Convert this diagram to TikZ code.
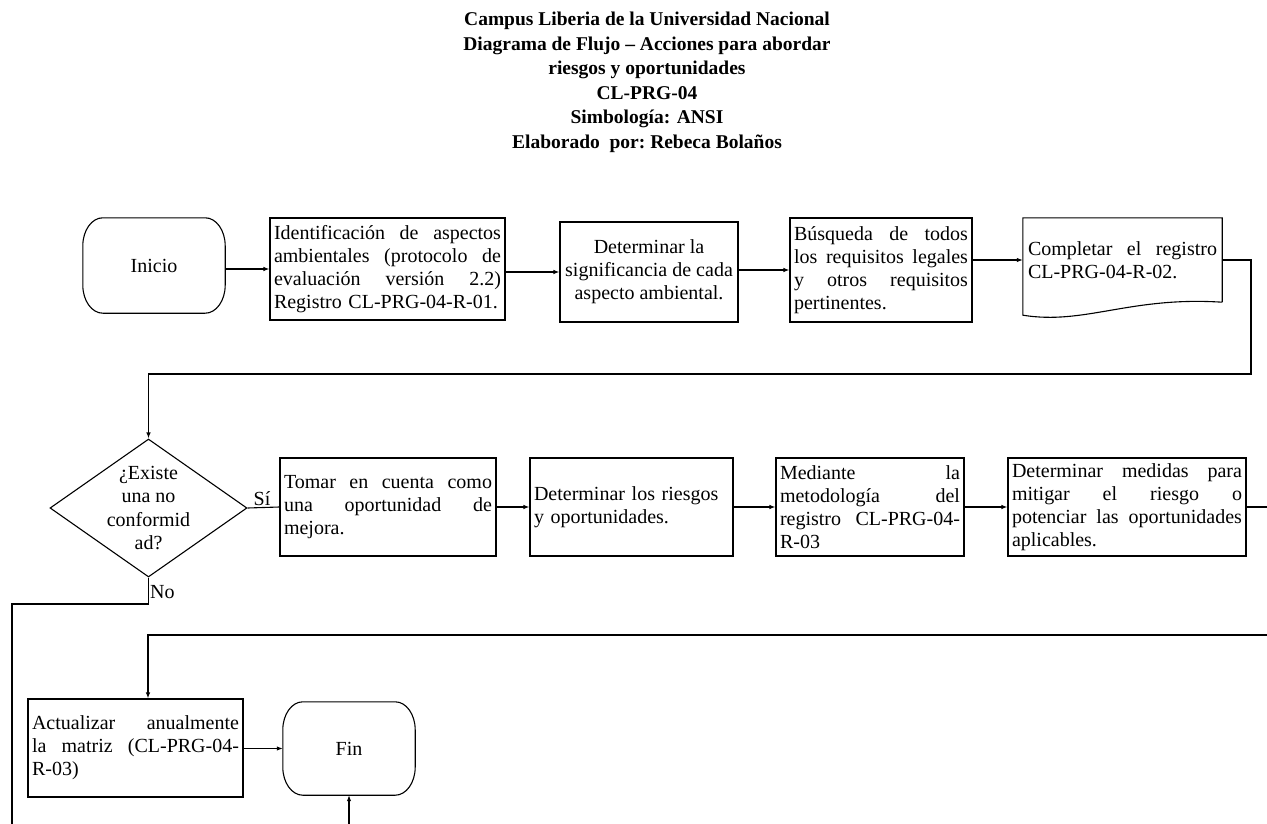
\documentclass[tikz,border=0pt]{standalone}
\usepackage{fontspec}
\setmainfont{Liberation Serif}
\usetikzlibrary{arrows.meta,shapes.geometric,calc}
% justified line: stretch the word spaces over the width \jlw
\newlength\jlw
\newcommand\jl[1]{\leavevmode\hbox to\jlw{\spaceskip=.25em plus 1fil\relax#1}}
\newcommand\boxfont{\fontsize{20}{23}\selectfont}
% terminal outline with elliptic corners round a node
\newcommand\termpath[1]{%
  \draw[wire] ($(#1.north west)+(20,0)$) -- ($(#1.north east)+(-20,0)$)
    .. controls ($(#1.north east)+(-9,0)$) and ($(#1.north east)+(0,12.5)$) .. ($(#1.north east)+(0,28)$)
    -- ($(#1.south east)+(0,-28)$)
    .. controls ($(#1.south east)+(0,-12.5)$) and ($(#1.south east)+(-9,0)$) .. ($(#1.south east)+(-20,0)$)
    -- ($(#1.south west)+(20,0)$)
    .. controls ($(#1.south west)+(9,0)$) and ($(#1.south west)+(0,-12.5)$) .. ($(#1.south west)+(0,-28)$)
    -- ($(#1.north west)+(0,28)$)
    .. controls ($(#1.north west)+(0,12.5)$) and ($(#1.north west)+(9,0)$) .. cycle;}

\begin{document}
\begin{tikzpicture}[x=1pt,y=-1pt,
  every node/.style={font=\boxfont},
  jw/.style={text width=#1, execute at begin node={\setlength{\jlw}{#1}}},
  proc/.style={draw, line width=1.1pt, rectangle, inner xsep=4pt, inner ysep=0pt, align=left},
  term/.style={rectangle, inner sep=0pt},
  flow/.style={line width=1.1pt, -{Latex[length=6pt,width=4.5pt]}},
  wire/.style={line width=1.1pt},
  lbl/.style={inner sep=0pt, font=\boxfont},
]
\useasboundingbox (0,0) rectangle (1267,824);

% heading
\node[anchor=north, align=center, inner sep=0pt,
      font=\bfseries\fontsize{19.5}{24.5}\selectfont] (title) at (647,12)
  {Campus Liberia de la Universidad Nacional\\
   Diagrama de Flujo -- Acciones para abordar\\
   riesgos y oportunidades\\
   CL-PRG-04\\
   Simbología: ANSI\\
   Elaborado\ \ por:\ Rebeca Bolaños};

% first row
\node[term, minimum width=142pt, minimum height=95pt] (ini) at (154,265.5) {Inicio};
\termpath{ini}
\node[proc, minimum width=235pt, minimum height=102pt, jw=227pt] (b1) at (387.5,269)
  {\jl{Identificación de aspectos}\\
   \jl{ambientales (protocolo de}\\
   \jl{evaluación versión 2.2)}\\
   Registro CL-PRG-04-R-01.};
\node[proc, minimum width=178pt, minimum height=100pt, align=center] (b2) at (649,272)
  {Determinar la\\ significancia de cada\\ aspecto ambiental.};
\node[proc, minimum width=182pt, minimum height=104pt, jw=174pt] (b3) at (881,270)
  {\jl{Búsqueda de todos}\\
   \jl{los requisitos legales}\\
   \jl{y otros requisitos}\\
   pertinentes.};
\node[rectangle, inner xsep=5pt, inner ysep=0pt, minimum width=199pt, minimum height=84pt,
      jw=189pt, align=left] (doc) at (1122.5,260)
  {\jl{Completar el registro}\\ CL-PRG-04-R-02.};
\draw[wire] (doc.south east) -- (doc.north east) -- (doc.north west) -- ($(doc.south west)+(0,13)$)
  .. controls ($(doc.south west)+(62,23)$) and ($(doc.south west)+(107,-6)$) .. (doc.south east);

% second row
\node[diamond, draw, line width=1.1pt, minimum width=197pt, minimum height=138pt, inner sep=0pt] (dia) at (148.5,508) {};
\node[align=center, inner sep=0pt, font=\fontsize{20}{23.3}\selectfont] (diat) at (dia.center)
  {¿Existe\\ una no\\ conformid\\ ad?};
\node[proc, minimum width=216pt, minimum height=98pt, jw=208pt] (tom) at (388,507)
  {\jl{Tomar en cuenta como}\\
   \jl{una oportunidad de}\\
   mejora.};
\node[proc, minimum width=203pt, minimum height=98pt, text width=195pt] (rie) at (631.5,507)
  {Determinar los riesgos\\ y oportunidades.};
\node[proc, minimum width=188pt, minimum height=98pt, jw=180pt] (med) at (870,507)
  {\jl{Mediante la}\\
   \jl{metodología del}\\
   \jl{registro CL-PRG-04-}\\
   R-03};
\node[proc, minimum width=238pt, minimum height=98pt, jw=230pt] (mit) at (1127,507)
  {\jl{Determinar medidas para}\\
   \jl{mitigar el riesgo o}\\
   \jl{potenciar las oportunidades}\\
   aplicables.};

% third row
\node[proc, minimum width=215pt, minimum height=98pt, jw=207pt] (act) at (135.5,748)
  {\jl{Actualizar anualmente}\\
   \jl{la matriz (CL-PRG-04-}\\
   R-03)};
\node[term, minimum width=132pt, minimum height=93pt] (fin) at (349,748.5) {Fin};
\termpath{fin}

% route points
\coordinate (r1) at (1251,374);
\coordinate (n1) at (12,604);
\coordinate (n2) at (12,824);
\coordinate (e2) at (1267,507);
\coordinate (e3) at (1267,635);
\coordinate (t3) at (148,635);
\coordinate (f0) at (349,824);

% connectors, first row
\draw[flow] (b1.west -| ini.east) -- (b1.west);
\draw[flow] (b1.east |- b2.west) -- (b2.west);
\draw[flow] (b2.east |- b3.west) -- (b3.west);
\draw[flow] (b3.east |- doc.west) -- (doc.west);
\draw[flow] (doc.east) -| (r1) -| (dia.north);

% connectors, second row
\draw[wire] (dia.east) -- (tom.west);
\node[lbl, anchor=south] (si) at (262,506) {Sí};
\draw[flow] (tom.east) -- (rie.west);
\draw[flow] (rie.east) -- (med.west);
\draw[flow] (med.east) -- (mit.west);
\draw[wire] (mit.east) -- (e2);
\draw[wire] (dia.south) |- (n1) -- (n2);
\node[lbl, anchor=west] (no) at (150,592) {No};

% connectors, third row
\draw[flow] (e3) -- (t3) -- (t3 |- act.north);
\draw[flow] (act.east |- fin.west) -- (fin.west);
\draw[flow] (f0) -- (fin.south);
\end{tikzpicture}
\end{document}
